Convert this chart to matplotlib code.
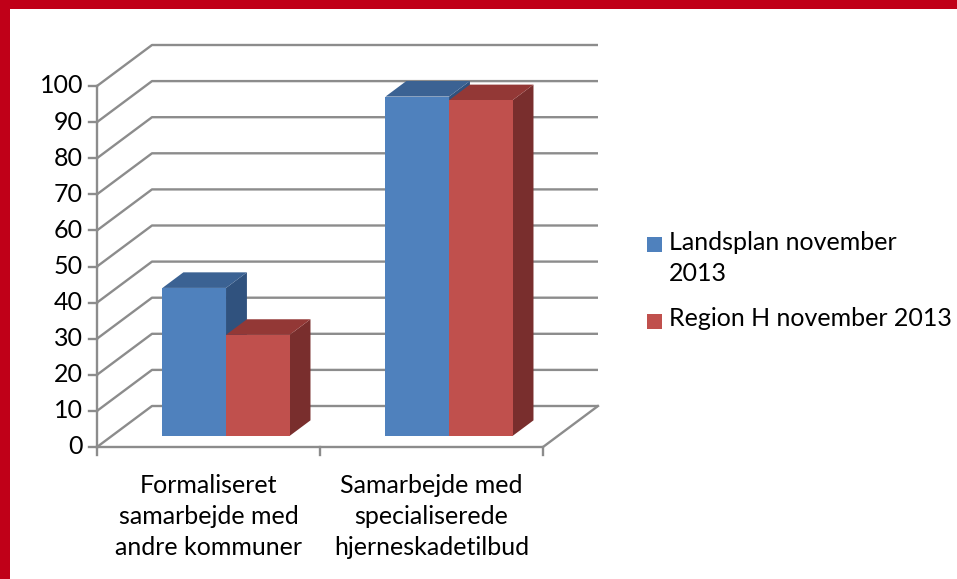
import matplotlib
matplotlib.use("Agg")
import matplotlib.pyplot as plt
from matplotlib.patches import Polygon, Rectangle

# Data
categories = ["Formaliseret\nsamarbejde med\nandre kommuner",
              "Samarbejde med\nspecialiserede\nhjerneskadetilbud"]
series_names = ["Landsplan november\n2013", "Region H november 2013"]
landsplan = [41, 94]
region_h = [28, 93]
y_ticks = [0, 10, 20, 30, 40, 50, 60, 70, 80, 90, 100]

# Colours (front, top, side)
blue = ("#4F81BD", "#3B6293", "#30527E")
red = ("#C0504D", "#933836", "#792E2D")
grid_col = "#8C8C8C"
frame_col = "#C00018"

plt.rcParams['font.family'] = ['Lato', 'DejaVu Sans']

W, H = 957, 579
fig = plt.figure(figsize=(W / 100, H / 100), dpi=100)
ax = fig.add_axes([0, 0, 1, 1])
ax.set_axis_off()

# pixel layout of the 3D box
px_cat = 223.0        # pixels per category on the front plane
px_val = 3.61         # pixels per value unit
x0_px, y0_px = 97, 447
ax.set_xlim(-0.5 - x0_px / px_cat, -0.5 + (W - x0_px) / px_cat)
ax.set_ylim(-(H - y0_px) / px_val, y0_px / px_val)

# depth offset of the back wall in data units
DX = 55 / px_cat
DY = 41 / px_val
n_cat = len(categories)
left, right = -0.5, n_cat - 0.5


def proj(x, v, d):
    return (x + d * DX, v + d * DY)


# walls / gridlines
for v in y_ticks:
    xs = [left, left + DX, right + DX]
    ys = [v, v + DY, v + DY]
    ax.plot(xs, ys, color=grid_col, lw=1.7, zorder=1, solid_capstyle='butt')
# floor front and right edges
ax.plot([left, right, right + DX], [0, 0, DY], color=grid_col, lw=1.7, zorder=1)
# vertical axis
ax.plot([left, left], [0, y_ticks[-1]], color=grid_col, lw=1.7, zorder=1)
# value ticks and labels
tick_len = 8 / px_cat
for v in y_ticks:
    ax.plot([left - tick_len, left], [v, v], color=grid_col, lw=1.7, zorder=1)
    ax.text(left - 14 / px_cat, v, str(v), ha='right', va='center', fontsize=18)
# category ticks and labels
for i in range(n_cat + 1):
    ax.plot([left + i, left + i], [0, -8 / px_val], color=grid_col, lw=1.7, zorder=1)
for i, lab in enumerate(categories):
    ax.text(i, -27 / px_val, lab, ha='center', va='top', fontsize=18,
            linespacing=1.42)

# bars
d0, d1 = 0.27, 0.65
bar_w = 0.285
offset = 0.012
for i in range(n_cat):
    for j, (vals, cols) in enumerate([(landsplan, blue), (region_h, red)]):
        xa = i - bar_w + offset + j * bar_w
        xb = xa + bar_w
        v = vals[i]
        front = [proj(xa, 0, d0), proj(xb, 0, d0), proj(xb, v, d0), proj(xa, v, d0)]
        top = [proj(xa, v, d0), proj(xb, v, d0), proj(xb, v, d1), proj(xa, v, d1)]
        side = [proj(xb, 0, d0), proj(xb, 0, d1), proj(xb, v, d1), proj(xb, v, d0)]
        z = 3 + j
        ax.add_patch(Polygon(side, closed=True, facecolor=cols[2], edgecolor='none', zorder=z))
        ax.add_patch(Polygon(top, closed=True, facecolor=cols[1], edgecolor='none', zorder=z))
        ax.add_patch(Polygon(front, closed=True, facecolor=cols[0], edgecolor='none', zorder=z))

# legend drawn by hand
leg_y = [245, 321]
for name, cols, yc in zip(series_names, [blue, red], leg_y):
    fig.patches.append(Rectangle((647 / W, 1 - (yc + 7.5) / H), 15 / W, 15 / H,
                                 transform=fig.transFigure, facecolor=cols[0],
                                 edgecolor='none'))
    fig.text(669 / W, 1 - (yc - 14) / H, name, ha='left', va='top', fontsize=18,
             linespacing=1.42)

# red frame (top and left strips)
fig.patches.append(Rectangle((0, 1 - 9 / H), 1, 9 / H, transform=fig.transFigure,
                             facecolor=frame_col, edgecolor='none'))
fig.patches.append(Rectangle((0, 0), 10 / W, 1, transform=fig.transFigure,
                             facecolor=frame_col, edgecolor='none'))

fig.savefig("out.png", dpi=100)
